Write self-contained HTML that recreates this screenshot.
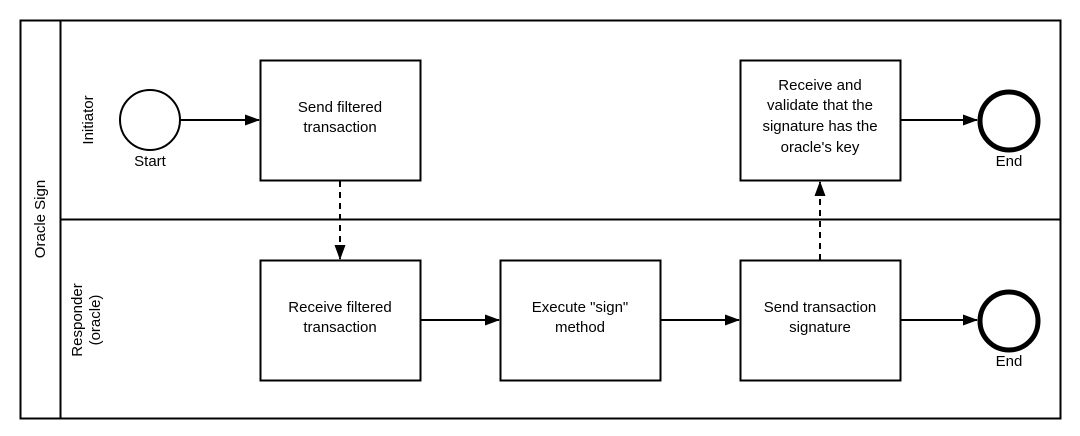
<!DOCTYPE html>
<html><head><meta charset="utf-8"><style>
html,body{margin:0;padding:0;background:#fff;}
svg{display:block;}
text{font-family:"Liberation Sans",sans-serif;font-size:15px;fill:#000;}
</style></head><body>
<svg width="1080" height="436" viewBox="0 0 1080 436" xmlns="http://www.w3.org/2000/svg">
<defs><marker id="a" markerWidth="15" markerHeight="12" refX="14" refY="6" orient="auto" markerUnits="userSpaceOnUse"><path d="M0,0.5 L15,6 L0,11.5 z" fill="#000"/></marker></defs>
<rect x="20.5" y="20.5" width="1040" height="398" fill="#fff" stroke="#000" stroke-width="2"/>
<line x1="60.5" y1="20" x2="60.5" y2="419" stroke="#000" stroke-width="2"/>
<line x1="60" y1="219.5" x2="1061" y2="219.5" stroke="#000" stroke-width="2"/>
<text transform="translate(45,219) rotate(-90)" text-anchor="middle">Oracle Sign</text>
<text transform="translate(93,120) rotate(-90)" text-anchor="middle">Initiator</text>
<text transform="translate(82,320) rotate(-90)" text-anchor="middle">Responder</text>
<text transform="translate(100,320) rotate(-90)" text-anchor="middle">(oracle)</text>
<g fill="#fff" stroke="#000" stroke-width="2">
<rect x="260.5" y="60.5" width="160" height="120"/>
<rect x="740.5" y="60.5" width="160" height="120"/>
<rect x="260.5" y="260.5" width="160" height="120"/>
<rect x="500.5" y="260.5" width="160" height="120"/>
<rect x="740.5" y="260.5" width="160" height="120"/>
<circle cx="150" cy="120" r="30"/>
</g>
<g fill="#fff" stroke="#000" stroke-width="5">
<circle cx="1009" cy="121" r="29"/>
<circle cx="1009" cy="321" r="29"/>
</g>
<g stroke="#000" stroke-width="2" marker-end="url(#a)">
<line x1="180" y1="120" x2="259" y2="120"/>
<line x1="900" y1="120" x2="977" y2="120"/>
<line x1="420" y1="320" x2="499" y2="320"/>
<line x1="660" y1="320" x2="739" y2="320"/>
<line x1="900" y1="320" x2="977" y2="320"/>
<line x1="340" y1="181" x2="340" y2="259" stroke-dasharray="6,5"/>
<line x1="820" y1="260" x2="820" y2="182" stroke-dasharray="6,5"/>
</g>
<g text-anchor="middle">
<text x="150" y="166">Start</text>
<text x="1009" y="166">End</text>
<text x="1009" y="366">End</text>
<text x="340" y="112">Send filtered</text>
<text x="340" y="132">transaction</text>
<text x="820" y="90">Receive and</text>
<text x="820" y="110">validate that the</text>
<text x="820" y="131">signature has the</text>
<text x="820" y="152">oracle's key</text>
<text x="340" y="312">Receive filtered</text>
<text x="340" y="332">transaction</text>
<text x="580" y="312">Execute "sign"</text>
<text x="580" y="332">method</text>
<text x="820" y="312">Send transaction</text>
<text x="820" y="332">signature</text>
</g>
</svg>
</body></html>
